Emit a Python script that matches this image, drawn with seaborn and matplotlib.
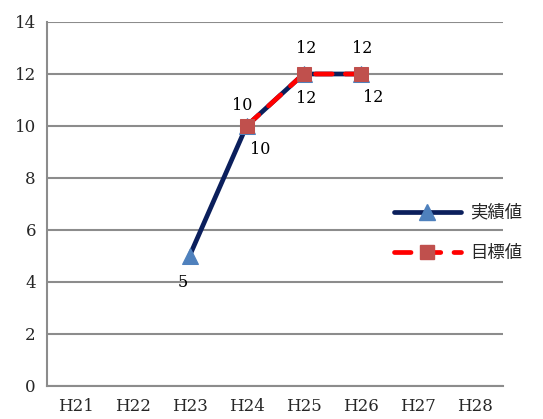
import numpy as np
import pandas as pd
import seaborn as sns
import matplotlib.pyplot as plt
from matplotlib.lines import Line2D

# data
years = ["H21", "H22", "H23", "H24", "H25", "H26", "H27", "H28"]
actual = [np.nan, np.nan, 5, 10, 12, 12, np.nan, np.nan]   # 実績値
target = [np.nan, np.nan, np.nan, 10, 12, 12, np.nan, np.nan]  # 目標値

navy = "#0b1f5c"
tri_col = "#4f81bd"
red = "#ff0000"
sq_col = "#c0504d"
grid_col = "#8c8c8c"

sns.set_style("white")
plt.rcParams['font.family'] = ['DejaVu Serif', 'Noto Sans CJK JP']

df = pd.DataFrame({"year": years, "pos": np.arange(len(years)),
                   "actual": actual, "target": target})

fig = plt.figure(figsize=(5.43, 4.19), dpi=100)
ax = fig.add_axes([0.0866, 0.0788, 0.8398, 0.8687])

dash = (0, (3.5, 2.8))
d1 = df.dropna(subset=["actual"])
d2 = df.dropna(subset=["target"])
sns.lineplot(data=d1, x="pos", y="actual", ax=ax, color=navy, lw=3.4,
             marker="^", markersize=11, markerfacecolor=tri_col,
             markeredgecolor=tri_col, solid_capstyle="round", zorder=3)
sns.lineplot(data=d2, x="pos", y="target", ax=ax, color=red, lw=3.4,
             linestyle=dash, marker="s", markersize=10,
             markerfacecolor=sq_col, markeredgecolor=sq_col,
             dash_capstyle="round", zorder=4)

# data labels
lab_font = dict(fontsize=11.5, color="black", family="DejaVu Serif")
act_off = {2: (-5, -19), 3: (10, -17), 4: (2, -18), 5: (9, -17)}
for i, v in zip(d1["pos"], d1["actual"]):
    ax.annotate(f"{v:g}", (i, v), xytext=act_off[i], textcoords="offset points",
                ha="center", va="center", **lab_font)
tgt_off = {3: (-3, 15), 4: (2, 18), 5: (1, 18)}
for i, v in zip(d2["pos"], d2["target"]):
    ax.annotate(f"{v:g}", (i, v), xytext=tgt_off[i], textcoords="offset points",
                ha="center", va="center", **lab_font)

# axes
ax.set_xlim(-0.5, len(years) - 0.5)
ax.set_ylim(0, 14)
ax.set_yticks(range(0, 15, 2))
ax.set_xticks(np.arange(-0.5, len(years), 1))
ax.set_xticklabels([])
ax.set_xticks(np.arange(len(years)), minor=True)
ax.set_xticklabels(years, minor=True)
ax.tick_params(axis="x", which="major", length=5, color=grid_col, width=1.5, direction="out")
ax.tick_params(axis="x", which="minor", length=0, pad=9, labelsize=12)
ax.tick_params(axis="y", length=5, color=grid_col, width=1.5, labelsize=12, pad=3)
ax.yaxis.grid(True, color=grid_col, lw=1.5)
ax.set_axisbelow(True)
for s in ["top", "right"]:
    ax.spines[s].set_visible(False)
for s in ["left", "bottom"]:
    ax.spines[s].set_color(grid_col)
    ax.spines[s].set_linewidth(1.5)
ax.set_xlabel("")
ax.set_ylabel("")

handles = [
    Line2D([], [], color=navy, lw=3.4, marker="^", markersize=11,
           markerfacecolor=tri_col, markeredgecolor=tri_col, solid_capstyle="round"),
    Line2D([], [], color=red, lw=3.4, linestyle=dash, marker="s", markersize=10,
           markerfacecolor=sq_col, markeredgecolor=sq_col, dash_capstyle="round"),
]
leg = ax.legend(handles, ["実績値", "目標値"], loc="center left",
                bbox_to_anchor=(378 / 543, (419 - 233) / 419), bbox_transform=fig.transFigure,
                frameon=False, handlelength=3.9, labelspacing=1.3, handletextpad=0.5,
                prop={"family": "Noto Sans CJK JP", "size": 12.5})

fig.savefig("out.png", dpi=100)
